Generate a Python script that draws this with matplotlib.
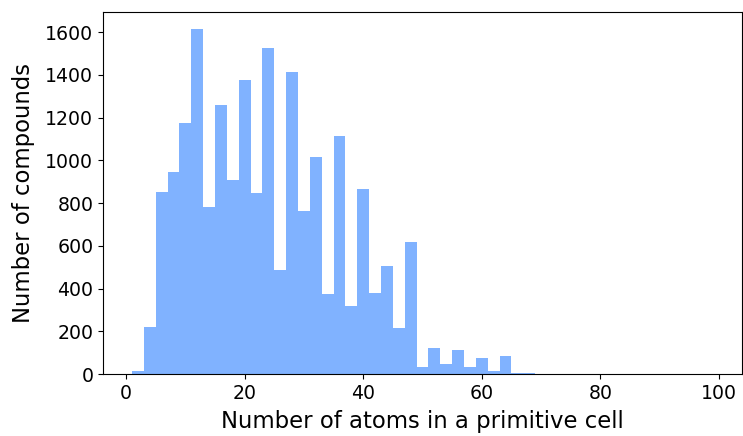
import numpy as np
import matplotlib
matplotlib.use('Agg')
import matplotlib.pyplot as plt

# bins of width 2, from 1 to 99 atoms
bin_edges = list(range(1, 101, 2))
counts = [15, 220, 851, 945, 1174, 1614, 781, 1261, 906, 1375,
          848, 1525, 486, 1413, 762, 1015, 373, 1115, 320, 865,
          379, 505, 214, 617, 34, 120, 45, 111, 33, 73,
          16, 84, 5, 3, 0, 0, 0, 0, 0, 2,
          0, 0, 0, 0, 0, 0, 0, 1, 0]

centers = [(bin_edges[i] + bin_edges[i + 1]) / 2 for i in range(len(counts))]

fig = plt.figure(figsize=(7.43, 4.36), dpi=100)
ax = fig.add_subplot(111)
fig.subplots_adjust(left=103/743, right=742/743, top=1-12/436, bottom=1-374/436)

ax.hist(centers, bins=bin_edges, weights=counts, color='#80b2ff')

ax.set_xlabel('Number of atoms in a primitive cell', fontsize=16.4, labelpad=5)
ax.set_ylabel('Number of compounds', fontsize=16.4, labelpad=7)
ax.tick_params(labelsize=13.6)

fig.savefig('out.png', dpi=100)
